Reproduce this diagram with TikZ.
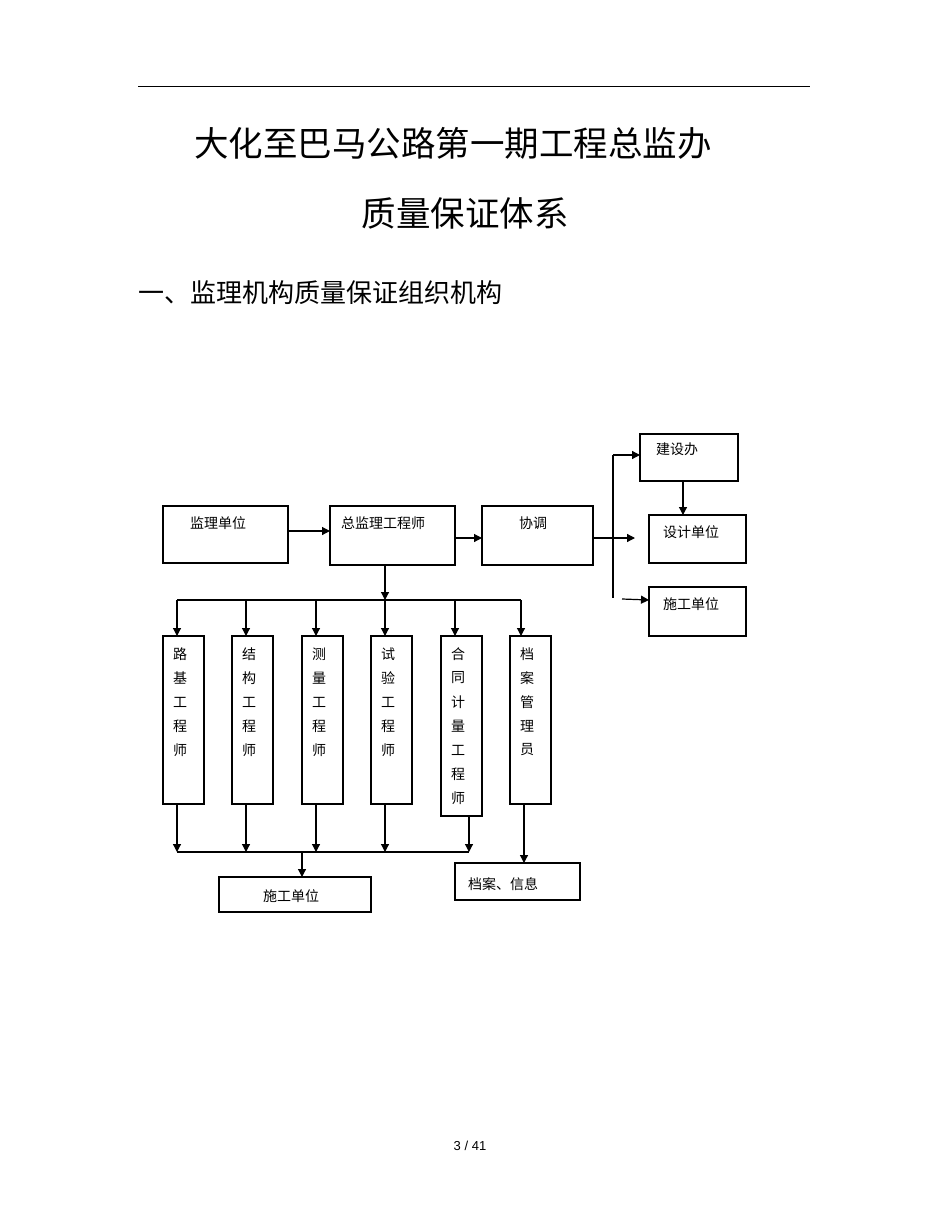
\documentclass[tikz,border=0pt]{standalone}
\usepackage{fontspec}
\setmainfont{Liberation Sans}
\newfontfamily\cjk{Noto Sans CJK SC}
\usetikzlibrary{arrows.meta}
\begin{document}
\begin{tikzpicture}[x=1pt,y=-1pt,
  bx/.style={draw,line width=1.2pt},
  lbl/.style={font=\cjk\fontsize{14}{16}\selectfont,inner sep=0pt},
  ar/.style={line width=1.2pt,-{Triangle[length=8pt,width=8pt]}},
  ln/.style={line width=1.2pt}]
\useasboundingbox (0,0) rectangle (950,1230);
\draw[line width=0.8pt] (138,86) -- (810,86);
\node[font=\cjk\fontsize{34.5}{40}\selectfont] (t1) at (453,143) {大化至巴马公路第一期工程总监办};
\node[font=\cjk\fontsize{34.5}{40}\selectfont] (t2) at (465,213) {质量保证体系};
\node[font=\cjk\fontsize{26}{30}\selectfont,anchor=west,inner sep=0pt] (t3) at (138,293) {一、监理机构质量保证组织机构};
% boxes
\draw[bx] (163,506) rectangle (288,563); \node[lbl] (a) at (218,523) {监理单位};
\draw[bx] (330,506) rectangle (455,565); \node[lbl] (b) at (383,523) {总监理工程师};
\draw[bx] (482,506) rectangle (593,565); \node[lbl] (c) at (533,523) {协调};
\draw[bx] (640,434) rectangle (738,481); \node[lbl] (d) at (677,449) {建设办};
\draw[bx] (649,515) rectangle (746,563); \node[lbl] (e) at (691,532) {设计单位};
\draw[bx] (649,587) rectangle (746,636); \node[lbl] (f) at (691,604) {施工单位};
\draw[bx] (219,877) rectangle (371,912); \node[lbl] (g) at (291,896) {施工单位};
\draw[bx] (455,863) rectangle (580,900); \node[lbl] (h) at (503,884) {档案、信息};
\foreach \x/\b/\t in {163/804/{路,基,工,程,师},232/804/{结,构,工,程,师},302/804/{测,量,工,程,师},371/804/{试,验,工,程,师},441/816/{合,同,计,量,工,程,师},510/804/{档,案,管,理,员}}{
  \draw[bx] (\x,636) rectangle (\x+41,\b);
  \foreach \c [count=\i] in \t { \node[lbl] at (\x+17,630+24*\i) {\c}; }
}
% connectors
\draw[ar] (288,531) -- (330,531);
\draw[ar] (455,538) -- (482,538);
\draw[ar] (593,538) -- (635,538);
\draw[ln] (613,455) -- (613,598);
\draw[ar] (613,455) -- (640,455);
\draw[ar] (622,599) -- (649,600);
\draw[ar] (683,481) -- (683,515);
\draw[ar] (385,565) -- (385,600);
\draw[ln] (177,600) -- (521,600);
\foreach \x in {177,246,316,385,455,521} \draw[ar] (\x,600) -- (\x,636);
\foreach \x in {177,246,316,385} \draw[ar] (\x,804) -- (\x,852);
\draw[ar] (469,816) -- (469,852);
\draw[ln] (177,852) -- (469,852);
\draw[ar] (302,852) -- (302,877);
\draw[ar] (524,804) -- (524,863);
\node[font=\fontsize{13}{15}\selectfont] (p) at (470,1146) {3 / 41};
\end{tikzpicture}
\end{document}
